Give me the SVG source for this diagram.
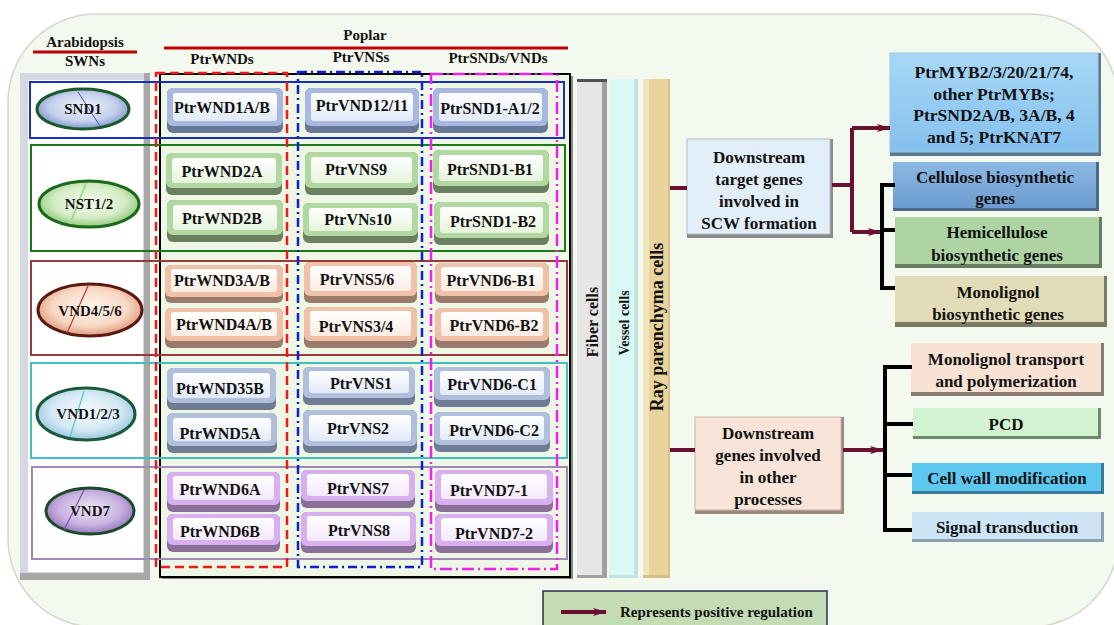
<svg xmlns="http://www.w3.org/2000/svg" width="1114" height="625" viewBox="0 0 1114 625">
<defs>
<style>
text{font-family:"Liberation Serif","Times New Roman",serif;font-weight:bold;fill:#111;text-anchor:middle}
.hd{font-size:15px}
.gt{font-size:16px}
.et{font-size:15px}
.rt{font-size:17px}
.bt{font-size:17.5px}
.mar{stroke:#6b1030;stroke-width:4;fill:none}
.blk{stroke:#000;stroke-width:4;fill:none}
.row{fill:none;stroke-width:2}
</style>
<marker id="arr" markerUnits="userSpaceOnUse" markerWidth="14" markerHeight="10" refX="13" refY="5" orient="auto">
<path d="M0,1 L14,5 L0,9 L3,5 Z" fill="#6b1030"/>
</marker>
<radialGradient id="eBlue" cx="50%" cy="45%" r="60%"><stop offset="0" stop-color="#f0f4fc"/><stop offset="0.6" stop-color="#c4d0ec"/><stop offset="1" stop-color="#6f86c0"/></radialGradient>
<radialGradient id="eGreen" cx="50%" cy="45%" r="60%"><stop offset="0" stop-color="#f6fbef"/><stop offset="0.6" stop-color="#d4ecc4"/><stop offset="1" stop-color="#7cbc68"/></radialGradient>
<radialGradient id="ePeach" cx="50%" cy="45%" r="60%"><stop offset="0" stop-color="#fff6f0"/><stop offset="0.6" stop-color="#f8d8c4"/><stop offset="1" stop-color="#d88868"/></radialGradient>
<radialGradient id="eCyan" cx="50%" cy="45%" r="60%"><stop offset="0" stop-color="#f6fbff"/><stop offset="0.6" stop-color="#d4e8f4"/><stop offset="1" stop-color="#88bcd8"/></radialGradient>
<radialGradient id="ePurp" cx="50%" cy="45%" r="60%"><stop offset="0" stop-color="#f0e8f8"/><stop offset="0.6" stop-color="#c8b0e0"/><stop offset="1" stop-color="#8a68b0"/></radialGradient>
<linearGradient id="iBlue" x1="0" y1="0" x2="0" y2="1"><stop offset="0" stop-color="#ffffff"/><stop offset="1" stop-color="#e2eaf8"/></linearGradient>
<linearGradient id="iGreen" x1="0" y1="0" x2="0" y2="1"><stop offset="0" stop-color="#ffffff"/><stop offset="1" stop-color="#e6f4dc"/></linearGradient>
<linearGradient id="iPeach" x1="0" y1="0" x2="0" y2="1"><stop offset="0" stop-color="#ffffff"/><stop offset="1" stop-color="#fcece2"/></linearGradient>
<linearGradient id="iPurp" x1="0" y1="0" x2="0" y2="1"><stop offset="0" stop-color="#ffffff"/><stop offset="1" stop-color="#f4e8fc"/></linearGradient>
<linearGradient id="gMyb" x1="0" y1="0" x2="0" y2="1"><stop offset="0" stop-color="#a8d8f8"/><stop offset="1" stop-color="#84c0ec"/></linearGradient>
<linearGradient id="gCell" x1="0" y1="0" x2="0" y2="1"><stop offset="0" stop-color="#8cb8e4"/><stop offset="1" stop-color="#6c9cd0"/></linearGradient>
</defs>

<!-- background -->
<rect x="8" y="14" width="1110" height="613" rx="88" fill="#f4f9ef" stroke="#d4d8cc" stroke-width="1.5"/>

<!-- headers -->
<g id="headers">
<text class="hd" x="85" y="47">Arabidopsis</text>
<line x1="33" y1="52" x2="137" y2="52" stroke="#c00000" stroke-width="3"/>
<text class="hd" x="85" y="66">SWNs</text>
<text class="hd" x="365" y="40">Poplar</text>
<line x1="164" y1="48" x2="568" y2="48" stroke="#c00000" stroke-width="3"/>
<text class="hd" x="222" y="64">PtrWNDs</text>
<text class="hd" x="361" y="62">PtrVNSs</text>
<text class="hd" x="498" y="63">PtrSNDs/VNDs</text>
</g>

<!-- left frame -->
<g id="swn-frame">
<rect x="20" y="73" width="130" height="507" fill="#a8a8a8"/>
<rect x="20" y="73" width="124" height="500" fill="#d4d8e0"/>
<rect x="28" y="80" width="115" height="492" fill="#ffffff"/>
</g>

<!-- poplar grid frame -->
<g id="poplar-frame">
<rect x="162" y="76" width="411" height="503" fill="#8a8a8a"/>
<rect x="160" y="74" width="410" height="503" fill="#eef6e6" stroke="#000" stroke-width="2"/>
</g>

<!-- row boxes -->
<g id="rows">
<rect class="row" x="30" y="82" width="534" height="56" stroke="#1a2ec0"/>
<rect class="row" x="31" y="145" width="534" height="106" stroke="#1a7a1a"/>
<rect class="row" x="31" y="261" width="536" height="94" stroke="#9a3a3a"/>
<rect class="row" x="31" y="363" width="536" height="95" stroke="#40c0c0"/>
<rect class="row" x="32" y="467" width="535" height="92" stroke="#a088b8"/>
</g>

<!-- column dashed boxes -->
<g id="columns">
<rect x="156" y="73" width="131" height="494" fill="none" stroke="#f01818" stroke-width="2.5" stroke-dasharray="9,5"/>
<rect x="298" y="72" width="124" height="495" fill="none" stroke="#1020d0" stroke-width="2.5" stroke-dasharray="9,4,2,4"/>
<rect x="431" y="74" width="126" height="495" fill="none" stroke="#f020f0" stroke-width="2.5" stroke-dasharray="12,4,2,4"/>
</g>

<!-- SWN ellipses -->
<g id="SND1"><ellipse cx="83" cy="109" rx="46" ry="20" fill="url(#eBlue)" stroke="#1a5a2a" stroke-width="3"/><line x1="78" y1="92" x2="100" y2="126" stroke="#3a5ad0" stroke-width="1"/><text class="et" x="83" y="114">SND1</text></g>
<g id="NST12"><ellipse cx="89" cy="204" rx="50" ry="23" fill="url(#eGreen)" stroke="#1a6a1a" stroke-width="3"/><line x1="86" y1="183" x2="70" y2="224" stroke="#a8d890" stroke-width="2"/><text class="et" x="89" y="209">NST1/2</text></g>
<g id="VND456"><ellipse cx="90" cy="310" rx="52" ry="26" fill="url(#ePeach)" stroke="#5a1a10" stroke-width="3"/><line x1="88" y1="286" x2="67" y2="333" stroke="#b83a30" stroke-width="1.2"/><text class="et" x="90" y="316">VND4/5/6</text></g>
<g id="VND123"><ellipse cx="86" cy="414" rx="49" ry="26" fill="url(#eCyan)" stroke="#1a5a3a" stroke-width="3"/><line x1="84" y1="391" x2="70" y2="437" stroke="#50c8d8" stroke-width="1.2"/><text class="et" x="88" y="419">VND1/2/3</text></g>
<g id="VND7"><ellipse cx="90" cy="511" rx="44" ry="23" fill="url(#ePurp)" stroke="#1a4a2a" stroke-width="3"/><line x1="84" y1="490" x2="64" y2="530" stroke="#7a58a0" stroke-width="1.2"/><text class="et" x="90" y="516">VND7</text></g>

<!-- gene boxes: column WND -->
<g id="PtrWND1AB"><rect x="167" y="88" width="116" height="45" rx="6" fill="#6a7898"/><rect x="167" y="88" width="116" height="38" rx="6" fill="#a8b8e0"/><rect x="173" y="93" width="104" height="28" rx="3" fill="url(#iBlue)"/><text class="gt" x="222" y="113">PtrWND1A/B</text></g>
<g id="PtrWND2A"><rect x="166" y="153" width="116" height="42" rx="6" fill="#6a8060"/><rect x="166" y="153" width="116" height="35" rx="6" fill="#b0d8a0"/><rect x="172" y="158" width="104" height="25" rx="3" fill="url(#iGreen)"/><text class="gt" x="222" y="177">PtrWND2A</text></g>
<g id="PtrWND2B"><rect x="167" y="200" width="116" height="42" rx="6" fill="#6a8060"/><rect x="167" y="200" width="116" height="35" rx="6" fill="#b0d8a0"/><rect x="173" y="205" width="104" height="25" rx="3" fill="url(#iGreen)"/><text class="gt" x="222" y="224">PtrWND2B</text></g>
<g id="PtrWND3AB"><rect x="165" y="265" width="118" height="38" rx="6" fill="#9a7a6a"/><rect x="165" y="265" width="118" height="32" rx="6" fill="#f0c0a8"/><rect x="171" y="269" width="106" height="23" rx="3" fill="url(#iPeach)"/><text class="gt" x="222" y="286">PtrWND3A/B</text></g>
<g id="PtrWND4AB"><rect x="165" y="308" width="118" height="40" rx="6" fill="#9a7a6a"/><rect x="165" y="308" width="118" height="33" rx="6" fill="#f0c0a8"/><rect x="171" y="312" width="106" height="24" rx="3" fill="url(#iPeach)"/><text class="gt" x="224" y="330">PtrWND4A/B</text></g>
<g id="PtrWND35B"><rect x="167" y="368" width="109" height="42" rx="6" fill="#707c94"/><rect x="167" y="368" width="109" height="35" rx="6" fill="#b0c0dc"/><rect x="173" y="373" width="97" height="25" rx="3" fill="url(#iBlue)"/><text class="gt" x="220" y="394">PtrWND35B</text></g>
<g id="PtrWND5A"><rect x="167" y="413" width="110" height="40" rx="6" fill="#707c94"/><rect x="167" y="413" width="110" height="33" rx="6" fill="#b0c0dc"/><rect x="173" y="418" width="98" height="23" rx="3" fill="url(#iBlue)"/><text class="gt" x="220" y="439">PtrWND5A</text></g>
<g id="PtrWND6A"><rect x="167" y="472" width="113" height="40" rx="6" fill="#8a7098"/><rect x="167" y="472" width="113" height="33" rx="6" fill="#d8b0f0"/><rect x="173" y="476" width="101" height="24" rx="3" fill="url(#iPurp)"/><text class="gt" x="220" y="495">PtrWND6A</text></g>
<g id="PtrWND6B"><rect x="167" y="514" width="113" height="38" rx="6" fill="#8a7098"/><rect x="167" y="514" width="113" height="31" rx="6" fill="#d8b0f0"/><rect x="173" y="518" width="101" height="22" rx="3" fill="url(#iPurp)"/><text class="gt" x="220" y="537">PtrWND6B</text></g>

<!-- column VNS -->
<g id="PtrVND1211"><rect x="305" y="88" width="114" height="45" rx="6" fill="#6a7898"/><rect x="305" y="88" width="114" height="38" rx="6" fill="#a8b8e0"/><rect x="311" y="93" width="102" height="28" rx="3" fill="url(#iBlue)"/><text class="gt" x="362" y="111">PtrVND12/11</text></g>
<g id="PtrVNS9"><rect x="305" y="152" width="113" height="43" rx="6" fill="#6a8060"/><rect x="305" y="152" width="113" height="36" rx="6" fill="#b0d8a0"/><rect x="311" y="157" width="101" height="26" rx="3" fill="url(#iGreen)"/><text class="gt" x="356" y="175">PtrVNS9</text></g>
<g id="PtrVNs10"><rect x="303" y="203" width="115" height="40" rx="6" fill="#6a8060"/><rect x="303" y="203" width="115" height="33" rx="6" fill="#b0d8a0"/><rect x="309" y="208" width="103" height="23" rx="3" fill="url(#iGreen)"/><text class="gt" x="358" y="225">PtrVNs10</text></g>
<g id="PtrVNS56"><rect x="304" y="262" width="113" height="41" rx="6" fill="#9a7a6a"/><rect x="304" y="262" width="113" height="34" rx="6" fill="#f0c0a8"/><rect x="310" y="266" width="101" height="25" rx="3" fill="url(#iPeach)"/><text class="gt" x="357" y="285">PtrVNS5/6</text></g>
<g id="PtrVNS34"><rect x="304" y="307" width="113" height="41" rx="6" fill="#9a7a6a"/><rect x="304" y="307" width="113" height="34" rx="6" fill="#f0c0a8"/><rect x="310" y="311" width="101" height="25" rx="3" fill="url(#iPeach)"/><text class="gt" x="356" y="332">PtrVNS3/4</text></g>
<g id="PtrVNS1"><rect x="303" y="367" width="112" height="38" rx="6" fill="#707c94"/><rect x="303" y="367" width="112" height="31" rx="6" fill="#b0c0dc"/><rect x="309" y="371" width="100" height="22" rx="3" fill="url(#iBlue)"/><text class="gt" x="361" y="389">PtrVNS1</text></g>
<g id="PtrVNS2"><rect x="303" y="410" width="114" height="43" rx="6" fill="#707c94"/><rect x="303" y="410" width="114" height="36" rx="6" fill="#b0c0dc"/><rect x="309" y="415" width="102" height="26" rx="3" fill="url(#iBlue)"/><text class="gt" x="358" y="434">PtrVNS2</text></g>
<g id="PtrVNS7"><rect x="301" y="470" width="114" height="38" rx="6" fill="#8a7098"/><rect x="301" y="470" width="114" height="31" rx="6" fill="#d8b0f0"/><rect x="307" y="474" width="102" height="22" rx="3" fill="url(#iPurp)"/><text class="gt" x="358" y="494">PtrVNS7</text></g>
<g id="PtrVNS8"><rect x="301" y="512" width="115" height="41" rx="6" fill="#8a7098"/><rect x="301" y="512" width="115" height="34" rx="6" fill="#d8b0f0"/><rect x="307" y="516" width="103" height="25" rx="3" fill="url(#iPurp)"/><text class="gt" x="359" y="536">PtrVNS8</text></g>

<!-- column SND/VND -->
<g id="PtrSND1A12"><rect x="433" y="88" width="115" height="45" rx="6" fill="#6a7898"/><rect x="433" y="88" width="115" height="38" rx="6" fill="#a8b8e0"/><rect x="439" y="93" width="103" height="28" rx="3" fill="url(#iBlue)"/><text class="gt" x="490" y="114">PtrSND1-A1/2</text></g>
<g id="PtrSND1B1"><rect x="433" y="150" width="116" height="43" rx="6" fill="#6a8060"/><rect x="433" y="150" width="116" height="36" rx="6" fill="#b0d8a0"/><rect x="439" y="155" width="104" height="26" rx="3" fill="url(#iGreen)"/><text class="gt" x="490" y="175">PtrSND1-B1</text></g>
<g id="PtrSND1B2"><rect x="434" y="202" width="115" height="43" rx="6" fill="#6a8060"/><rect x="434" y="202" width="115" height="36" rx="6" fill="#b0d8a0"/><rect x="440" y="207" width="103" height="26" rx="3" fill="url(#iGreen)"/><text class="gt" x="493" y="227">PtrSND1-B2</text></g>
<g id="PtrVND6B1"><rect x="435" y="263" width="114" height="40" rx="6" fill="#9a7a6a"/><rect x="435" y="263" width="114" height="33" rx="6" fill="#f0c0a8"/><rect x="441" y="267" width="102" height="24" rx="3" fill="url(#iPeach)"/><text class="gt" x="491" y="286">PtrVND6-B1</text></g>
<g id="PtrVND6B2"><rect x="435" y="308" width="114" height="40" rx="6" fill="#9a7a6a"/><rect x="435" y="308" width="114" height="33" rx="6" fill="#f0c0a8"/><rect x="441" y="312" width="102" height="24" rx="3" fill="url(#iPeach)"/><text class="gt" x="494" y="331">PtrVND6-B2</text></g>
<g id="PtrVND6C1"><rect x="434" y="367" width="116" height="40" rx="6" fill="#707c94"/><rect x="434" y="367" width="116" height="33" rx="6" fill="#b0c0dc"/><rect x="440" y="371" width="104" height="24" rx="3" fill="url(#iBlue)"/><text class="gt" x="492" y="390">PtrVND6-C1</text></g>
<g id="PtrVND6C2"><rect x="434" y="412" width="116" height="40" rx="6" fill="#707c94"/><rect x="434" y="412" width="116" height="33" rx="6" fill="#b0c0dc"/><rect x="440" y="416" width="104" height="24" rx="3" fill="url(#iBlue)"/><text class="gt" x="494" y="436">PtrVND6-C2</text></g>
<g id="PtrVND71"><rect x="435" y="470" width="118" height="42" rx="6" fill="#8a7098"/><rect x="435" y="470" width="118" height="35" rx="6" fill="#d8b0f0"/><rect x="441" y="474" width="106" height="25" rx="3" fill="url(#iPurp)"/><text class="gt" x="489" y="496">PtrVND7-1</text></g>
<g id="PtrVND72"><rect x="435" y="514" width="118" height="39" rx="6" fill="#8a7098"/><rect x="435" y="514" width="118" height="32" rx="6" fill="#d8b0f0"/><rect x="441" y="518" width="106" height="23" rx="3" fill="url(#iPurp)"/><text class="gt" x="494" y="539">PtrVND7-2</text></g>

<!-- cell-type bars -->
<g id="fiber"><rect x="577" y="79" width="30" height="499" fill="#a0a0a0"/><rect x="577" y="79" width="25" height="496" fill="#e6e6e6"/><rect x="577" y="79" width="30" height="3" fill="#505050"/><text style="font-size:16px" transform="translate(598,322) rotate(-90)">Fiber cells</text></g>
<g id="vessel"><rect x="609" y="79" width="29" height="499" fill="#c2e4de"/><rect x="609" y="79" width="25" height="496" fill="#daf8f4"/><text style="font-size:14px" transform="translate(629,323) rotate(-90)">Vessel cells</text></g>
<g id="ray"><rect x="643" y="79" width="27" height="499" fill="#d8c088"/><rect x="643" y="79" width="6" height="496" fill="#f2e6bc"/><rect x="649" y="79" width="19" height="496" fill="#e8d49c"/><text style="font-size:18px" transform="translate(663,327) rotate(-90)">Ray parenchyma cells</text></g>

<!-- right side boxes -->
<g id="scw"><rect x="687" y="139" width="146" height="99" fill="#8a8a8a"/><rect x="687" y="139" width="143" height="95" fill="#e2eef8" stroke="#b0bcc8" stroke-width="1"/><text class="rt" x="759" y="163">Downstream</text><text class="rt" x="759" y="185">target genes</text><text class="rt" x="759" y="207">involved in</text><text class="rt" x="759" y="229">SCW formation</text></g>
<g id="myb"><rect x="890" y="53" width="211" height="103" fill="#5a7a90"/><rect x="890" y="53" width="208" height="99" fill="url(#gMyb)" stroke="#9cc8e4" stroke-width="1"/><text class="bt" x="994" y="78">PtrMYB2/3/20/21/74,</text><text class="bt" x="994" y="100">other PtrMYBs;</text><text class="bt" x="994" y="121">PtrSND2A/B, 3A/B, 4</text><text class="bt" x="994" y="143">and 5; PtrKNAT7</text></g>
<g id="cellulose"><rect x="893" y="162" width="206" height="49" fill="#4a6a88"/><rect x="893" y="162" width="203" height="46" fill="url(#gCell)"/><text class="rt" x="995" y="183">Cellulose biosynthetic</text><text class="rt" x="995" y="204">genes</text></g>
<g id="hemicellulose"><rect x="895" y="217" width="207" height="51" fill="#687c64"/><rect x="895" y="217" width="204" height="47" fill="#aed4a4"/><text class="rt" x="997" y="238">Hemicellulose</text><text class="rt" x="997" y="261">biosynthetic genes</text></g>
<g id="monolignol"><rect x="895" y="276" width="212" height="51" fill="#7c7a64"/><rect x="895" y="276" width="209" height="46" fill="#e2dcb8"/><text class="rt" x="998" y="298">Monolignol</text><text class="rt" x="998" y="320">biosynthetic genes</text></g>
<g id="other"><rect x="695" y="417" width="149" height="97" fill="#9a8880"/><rect x="695" y="417" width="146" height="93" fill="#f8e4d8" stroke="#c8b4a8" stroke-width="1"/><text class="rt" x="768" y="439">Downstream</text><text class="rt" x="768" y="461">genes involved</text><text class="rt" x="768" y="483">in other</text><text class="rt" x="768" y="505">processes</text></g>
<g id="transport"><rect x="911" y="343" width="193" height="53" fill="#8a7a70"/><rect x="911" y="343" width="190" height="49" fill="#f8e2d4"/><text class="rt" x="1006" y="365">Monolignol transport</text><text class="rt" x="1006" y="387">and polymerization</text></g>
<g id="pcd"><rect x="913" y="408" width="188" height="31" fill="#6a8a6a"/><rect x="913" y="408" width="185" height="28" fill="#d2f4d2"/><text class="rt" x="1006" y="430">PCD</text></g>
<g id="cellwall"><rect x="912" y="463" width="192" height="31" fill="#3a7898"/><rect x="912" y="463" width="189" height="28" fill="#5cc8f0"/><text class="rt" x="1007" y="484">Cell wall modification</text></g>
<g id="signal"><rect x="912" y="512" width="192" height="30" fill="#8aa0b0"/><rect x="912" y="512" width="189" height="27" fill="#cce4f4"/><text class="rt" x="1007" y="533">Signal transduction</text></g>

<!-- connectors -->
<g id="connectors">
<path class="mar" d="M670,188 H687"/>
<path class="mar" d="M832,185 H852"/>
<path class="mar" d="M852,128 V232"/>
<path class="mar" d="M852,128 H890" marker-end="url(#arr)"/>
<path class="mar" d="M852,232 H881" marker-end="url(#arr)"/>
<path class="blk" d="M895,185 H882 V288 H895"/>
<path class="blk" d="M882,230 H895"/>
<path class="mar" d="M670,450 H695"/>
<path class="mar" d="M843,450 H883" marker-end="url(#arr)"/>
<path class="blk" d="M912,367 H885 V530 H912"/>
<path class="blk" d="M885,424 H913"/>
<path class="blk" d="M885,475 H912"/>
</g>

<!-- legend -->
<g id="legend">
<rect x="543" y="591" width="284" height="44" fill="#c4dcb4" stroke="#2a2a50" stroke-width="1.5"/>
<path class="mar" d="M561,612 H606" stroke-width="3" marker-end="url(#arr)"/>
<text style="font-size:15px;text-anchor:start" x="620" y="617">Represents positive regulation</text>
</g>
</svg>
